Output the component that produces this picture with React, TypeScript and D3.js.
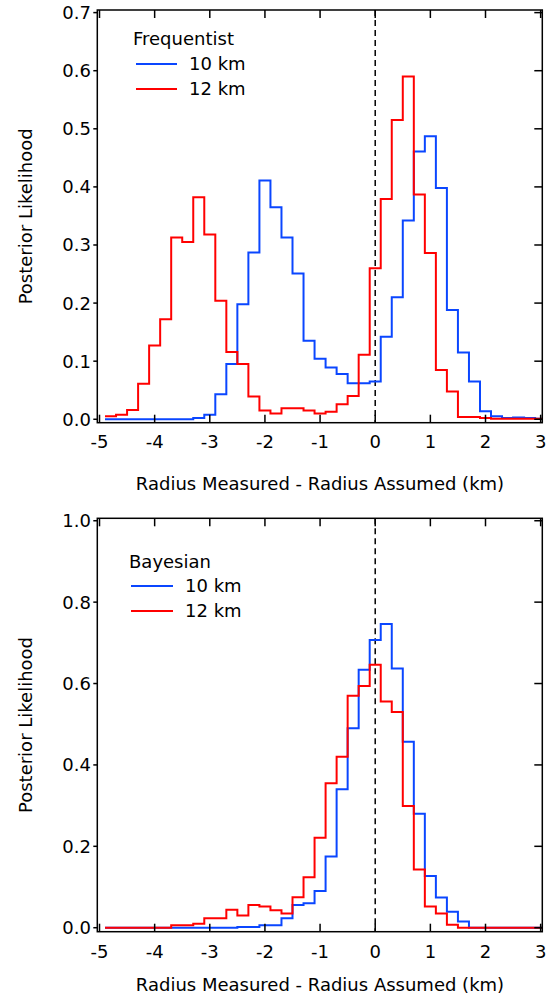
import React from 'react';
import * as d3 from 'd3';

// Bin centres (km), bin width 0.2
const binCenters = [
  -4.8, -4.6, -4.4, -4.2, -4.0, -3.8, -3.6, -3.4, -3.2, -3.0,
  -2.8, -2.6, -2.4, -2.2, -2.0, -1.8, -1.6, -1.4, -1.2, -1.0,
  -0.8, -0.6, -0.4, -0.2, 0.0, 0.2, 0.4, 0.6, 0.8, 1.0,
  1.2, 1.4, 1.6, 1.8, 2.0, 2.2, 2.4, 2.6, 2.8, 3.0,
];
const binWidth = 0.2;

const freqBlue10 = [
  0, 0, 0, 0, 0, 0, 0, 0, 0.002, 0.008,
  0.043, 0.095, 0.198, 0.287, 0.411, 0.365, 0.313, 0.251, 0.135, 0.104,
  0.089, 0.078, 0.062, 0.062, 0.065, 0.142, 0.21, 0.342, 0.461, 0.487,
  0.398, 0.188, 0.115, 0.065, 0.014, 0.005, 0.002, 0.003, 0.002, 0.001,
];
const freqRed12 = [
  0.005, 0.008, 0.016, 0.061, 0.127, 0.172, 0.313, 0.305, 0.382, 0.318,
  0.204, 0.116, 0.095, 0.039, 0.015, 0.01, 0.019, 0.019, 0.015, 0.01,
  0.013, 0.026, 0.04, 0.111, 0.26, 0.379, 0.515, 0.59, 0.387, 0.286,
  0.085, 0.048, 0.004, 0.004, 0.002, 0.001, 0.001, 0.001, 0.001, 0.001,
];
const bayesBlue10 = [
  0, 0, 0, 0, 0, 0, 0, 0, 0, 0,
  0, 0, 0.002, 0.002, 0.006, 0.006, 0.023, 0.056, 0.06, 0.09,
  0.175, 0.34, 0.49, 0.634, 0.707, 0.746, 0.637, 0.457, 0.28, 0.127,
  0.074, 0.039, 0.015, 0, 0, 0, 0, 0, 0, 0,
];
const bayesRed12 = [
  0, 0, 0, 0, 0, 0, 0.006, 0.006, 0.01, 0.023,
  0.023, 0.044, 0.03, 0.056, 0.052, 0.043, 0.035, 0.075, 0.124, 0.221,
  0.355, 0.42, 0.57, 0.594, 0.646, 0.556, 0.53, 0.299, 0.143, 0.052,
  0.035, 0.007, 0, 0, 0, 0, 0, 0, 0, 0,
];

const xTicks = [-5, -4, -3, -2, -1, 0, 1, 2, 3];
const yTicksTop = [0.0, 0.1, 0.2, 0.3, 0.4, 0.5, 0.6, 0.7];
const yTicksBottom = [0.0, 0.2, 0.4, 0.6, 0.8, 1.0];
const legendLabels = ['10 km', '12 km'];
const seriesColors = ['#0a46ff', '#ff0000'];

const FONT = '"DejaVu Sans", sans-serif';
const FS = 18;

type PanelProps = {
  id: string;
  top: number;
  bottom: number;
  yDomain: [number, number];
  yTicks: number[];
  series: number[][];
  title: string;
  legendPos: { x: number; titleY: number; lineX0: number; lineX1: number; textX: number; rowY: number[] };
  tickLabelY: number;
  xTitleY: number;
};

const LEFT = 97.3;
const RIGHT = 542.3;

function Panel(p: PanelProps) {
  const x = d3.scaleLinear().domain([-5.04, 3.03]).range([LEFT, RIGHT]);
  const y = d3.scaleLinear().domain(p.yDomain).range([p.bottom, p.top]);
  const line = d3
    .line<[number, number]>()
    .x((d) => x(d[0]))
    .y((d) => y(d[1]));
  const stepPts = (vals: number[]) => {
    const pts: [number, number][] = [];
    binCenters.forEach((c, i) => {
      pts.push([c - binWidth / 2, vals[i]]);
      pts.push([c + binWidth / 2, vals[i]]);
    });
    return pts;
  };
  const fmt = d3.format('.1f');
  const tl = 8;
  return (
    <g>
      <defs>
        <clipPath id={p.id}>
          <rect x={LEFT} y={p.top} width={RIGHT - LEFT} height={p.bottom - p.top} />
        </clipPath>
      </defs>
      <line x1={x(0)} x2={x(0)} y1={p.top} y2={p.bottom} stroke="#000" strokeWidth={1.5} strokeDasharray="6,4" />
      <g clipPath={`url(#${p.id})`}>
        {p.series.map((s, i) => (
          <path key={i} d={line(stepPts(s)) || ''} fill="none" stroke={seriesColors[i]} strokeWidth={2} />
        ))}
      </g>
      <rect x={LEFT} y={p.top} width={RIGHT - LEFT} height={p.bottom - p.top} fill="none" stroke="#000" strokeWidth={1.5} />
      {xTicks.map((t) => (
        <g key={'x' + t}>
          <line x1={x(t)} x2={x(t)} y1={p.bottom} y2={p.bottom - tl} stroke="#000" strokeWidth={1.5} />
          <line x1={x(t)} x2={x(t)} y1={p.top} y2={p.top + tl} stroke="#000" strokeWidth={1.5} />
          <text x={x(t)} y={p.tickLabelY} textAnchor="middle" fontFamily={FONT} fontSize={FS} fill="#000">
            {t}
          </text>
        </g>
      ))}
      {p.yTicks.map((t) => (
        <g key={'y' + t}>
          <line x1={LEFT} x2={LEFT - 4} y1={y(t)} y2={y(t)} stroke="#000" strokeWidth={1.5} />
          <line x1={RIGHT} x2={RIGHT - tl} y1={y(t)} y2={y(t)} stroke="#000" strokeWidth={1.5} />
          <text x={91} y={y(t)} dy="0.36em" textAnchor="end" fontFamily={FONT} fontSize={FS} fill="#000">
            {fmt(t)}
          </text>
        </g>
      ))}
      <text
        transform={`translate(32,${(p.top + p.bottom) / 2}) rotate(-90)`}
        textAnchor="middle"
        fontFamily={FONT}
        fontSize={FS}
        fill="#000"
      >
        Posterior Likelihood
      </text>
      <text x={320} y={p.xTitleY} textAnchor="middle" fontFamily={FONT} fontSize={FS} fill="#000">
        Radius Measured - Radius Assumed (km)
      </text>
      <text x={p.legendPos.x} y={p.legendPos.titleY} fontFamily={FONT} fontSize={FS} fill="#000">
        {p.title}
      </text>
      {legendLabels.map((lab, i) => (
        <g key={lab}>
          <line
            x1={p.legendPos.lineX0}
            x2={p.legendPos.lineX1}
            y1={p.legendPos.rowY[i]}
            y2={p.legendPos.rowY[i]}
            stroke={seriesColors[i]}
            strokeWidth={2}
          />
          <text x={p.legendPos.textX} y={p.legendPos.rowY[i]} dy="0.36em" fontFamily={FONT} fontSize={FS} fill="#000">
            {lab}
          </text>
        </g>
      ))}
    </g>
  );
}

export default function App() {
  return (
    <svg width={555} height={1006} style={{ position: 'absolute', left: 0, top: 0, background: '#fff' }}>
      <rect x={0} y={0} width={555} height={1006} fill="#fff" />
      <Panel
        id="clipTop"
        top={10}
        bottom={422.7}
        yDomain={[-0.0059, 0.7045]}
        yTicks={yTicksTop}
        series={[freqBlue10, freqRed12]}
        title="Frequentist"
        legendPos={{ x: 133, titleY: 45, lineX0: 136, lineX1: 177, textX: 189, rowY: [64, 89] }}
        tickLabelY={448}
        xTitleY={490}
      />
      <Panel
        id="clipBottom"
        top={518.3}
        bottom={931.7}
        yDomain={[-0.0098, 1.006]}
        yTicks={yTicksBottom}
        series={[bayesBlue10, bayesRed12]}
        title="Bayesian"
        legendPos={{ x: 129, titleY: 568, lineX0: 131, lineX1: 173, textX: 185, rowY: [586, 611] }}
        tickLabelY={958}
        xTitleY={991}
      />
    </svg>
  );
}
